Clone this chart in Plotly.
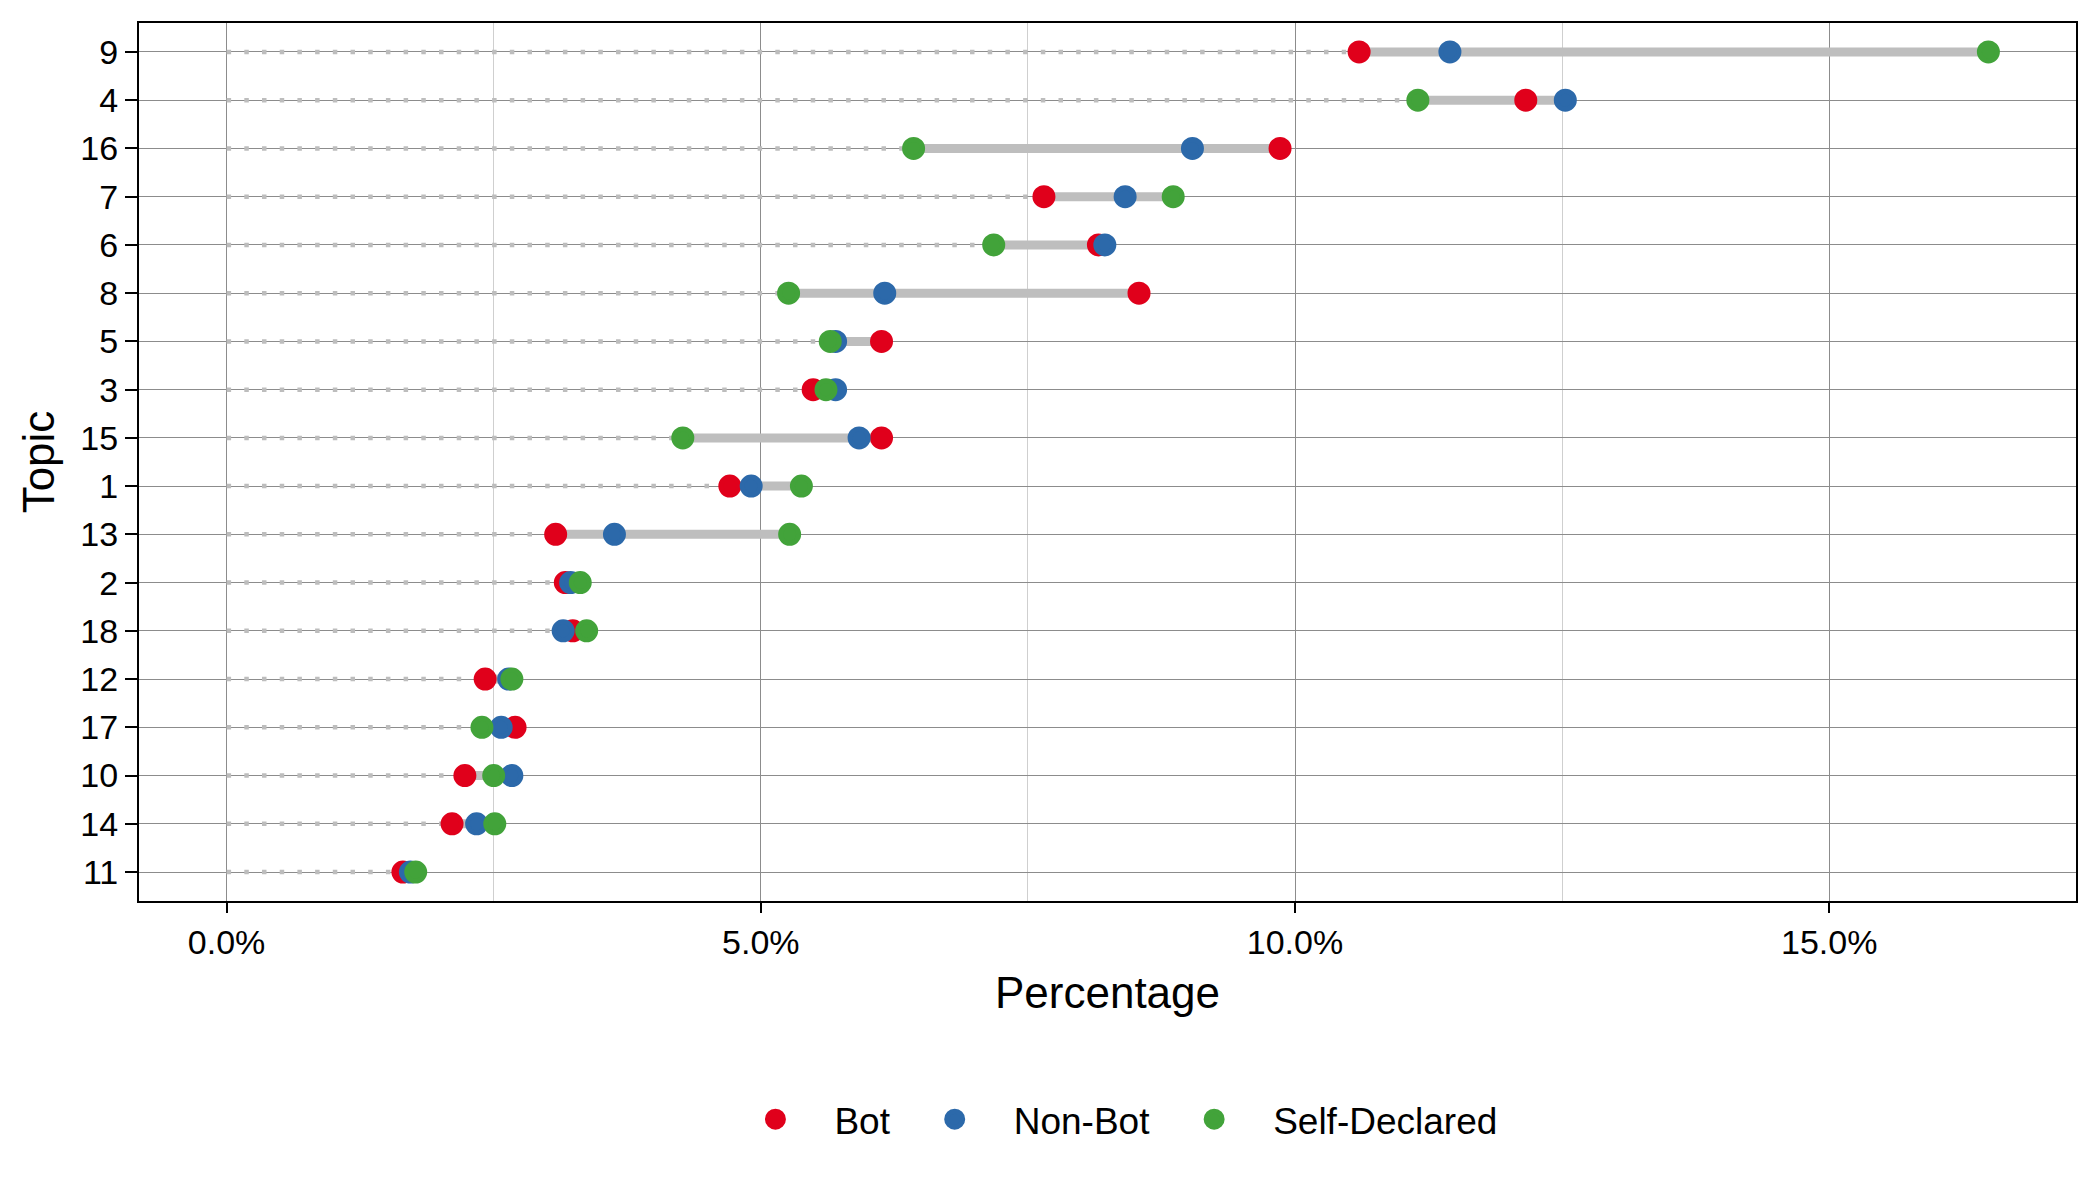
import plotly.graph_objects as go

# Topics in display order, top to bottom
topics = ["9", "4", "16", "7", "6", "8", "5", "3", "15", "1", "13", "2", "18", "12", "17", "10", "14", "11"]

# Percentages per group
bot = [10.60, 12.16, 9.86, 7.65, 8.16, 8.54, 6.13, 5.49, 6.13, 4.71, 3.08, 3.17, 3.24, 2.42, 2.70, 2.23, 2.11, 1.65]
non_bot = [11.45, 12.53, 9.04, 8.41, 8.22, 6.16, 5.70, 5.70, 5.92, 4.91, 3.63, 3.22, 3.15, 2.64, 2.57, 2.67, 2.34, 1.72]
self_declared = [16.49, 11.15, 6.43, 8.86, 7.18, 5.26, 5.65, 5.61, 4.27, 5.38, 5.27, 3.31, 3.37, 2.67, 2.39, 2.50, 2.51, 1.77]

series_names = ["Bot", "Non-Bot", "Self-Declared"]
series_colors = ["#E0001B", "#2C69AA", "#42A33A"]

FONT = "Liberation Sans, Arial, Helvetica, sans-serif"

fig = go.Figure()

# dotted leader lines from 0 to the minimum value
dx, dy = [], []
# thick range segments from min to max
sx, sy = [], []
for i, t in enumerate(topics):
    vals = [bot[i], non_bot[i], self_declared[i]]
    lo, hi = min(vals), max(vals)
    dx += [0, lo, None]
    dy += [t, t, None]
    sx += [lo, hi, None]
    sy += [t, t, None]

fig.add_trace(go.Scatter(x=dx, y=dy, mode="lines", showlegend=False, hoverinfo="skip",
                         line=dict(color="#bdbdbd", width=4.5, dash="4.5px,13.2px")))
fig.add_trace(go.Scatter(x=sx, y=sy, mode="lines", showlegend=False, hoverinfo="skip",
                         line=dict(color="#bebebe", width=9)))

for name, vals, col in zip(series_names, [bot, non_bot, self_declared], series_colors):
    fig.add_trace(go.Scatter(x=vals, y=topics, mode="markers", name=name,
                             marker=dict(color=col, size=18, line=dict(width=5, color=col))))

cat_order = list(reversed(topics))

fig.update_layout(
    width=2100, height=1200,
    margin=dict(l=131, r=32, t=15, b=307),
    paper_bgcolor="white", plot_bgcolor="white",
    font=dict(family=FONT, color="black", size=34),
    legend=dict(orientation="h", x=0.501, xanchor="center", y=-0.249, yanchor="middle",
                font=dict(size=37, family=FONT), itemwidth=108, bgcolor="rgba(0,0,0,0)"),
    xaxis=dict(
        range=[-0.82, 17.31], tickmode="linear", tick0=0, dtick=5,
        tickformat=".1f", ticksuffix="%",
        showgrid=True, gridcolor="#8c8c8c", gridwidth=1,
        minor=dict(dtick=2.5, tick0=0, showgrid=True, gridcolor="#cfcfcf", gridwidth=1),
        zeroline=False,
        ticks="outside", ticklen=10, tickwidth=2, tickcolor="black",
        showline=True, linecolor="black", linewidth=2, mirror=True,
        tickfont=dict(size=34, family=FONT, color="black"),
        title=dict(text="Percentage", font=dict(size=44, family=FONT, color="black"), standoff=17),
        automargin=False,
    ),
    yaxis=dict(
        type="category", categoryorder="array", categoryarray=cat_order,
        range=[-0.6, len(topics) - 0.4],
        showgrid=True, gridcolor="#8c8c8c", gridwidth=1,
        zeroline=False,
        ticks="outside", ticklen=12, tickwidth=2, tickcolor="black",
        showline=True, linecolor="black", linewidth=2, mirror=True,
        tickfont=dict(size=34, family=FONT, color="black"),
        title=dict(text="Topic", font=dict(size=44, family=FONT, color="black"), standoff=12),
        automargin=False,
    ),
)

fig.write_html("out.html")
